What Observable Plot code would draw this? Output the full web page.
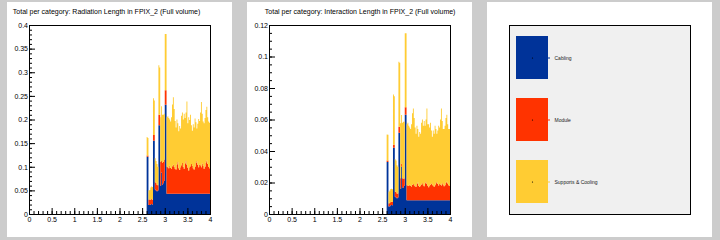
<!DOCTYPE html>
<html><head><meta charset="utf-8">
<script src="https://cdn.jsdelivr.net/npm/d3@7"></script>
<script src="https://cdn.jsdelivr.net/npm/@observablehq/plot@0.6"></script>
<style>
html,body{margin:0;padding:0;background:#cccccc;width:720px;height:240px;overflow:hidden;font-family:"Liberation Sans",Arial,sans-serif}
.pad{position:absolute;top:2px;width:225px;height:235px;background:#fff}
.pad svg{display:block}
</style></head><body>
<div id="p1" class="pad" style="left:7px"></div>
<div id="p2" class="pad" style="left:247px"></div>
<div id="p3" class="pad" style="left:487px"></div>
<script>
// ---- data ----
const categories = ["Cabling", "Module", "Supports & Cooling"];
const legendLabels = ["Cabling", "Module", "Supports & Cooling"];
const colors = ["#003399", "#ff3300", "#ffcc33"];
const binStart = 2.6, binWidth = 0.02; // 70 bins, 2.6 .. 4.0

const titleRad = "Total per category: Radiation Length in FPIX_2 (Full volume)";
const titleInt = "Total per category: Interaction Length in FPIX_2 (Full volume)";

const radCabling = [0.121,0.121, 0.019,0.019,0.020,0.021,0.020, 0.155,0.155, 0.052,0.050,0.048,0.050, 0.188,0.188, 0.060,0.088,0.062,0.065,0.070, 0.231,0.231,
  0.043,0.043,0.043,0.043,0.043,0.043,0.043,0.043,0.043,0.043,0.043,0.043,0.043,0.043,0.043,0.043,
  0.043,0.043,0.043,0.043,0.043,0.043,0.043,0.043,0.043,0.043,0.043,0.043,0.043,0.043,0.043,0.043,
  0.043,0.043,0.043,0.043,0.043,0.043,0.043,0.043,0.043,0.043,0.043,0.043,0.043,0.043,0.043,0.043];
const radModule = [0.003,0.003, 0.011,0.012,0.010,0.011,0.010, 0.012,0.012, 0.015,0.016,0.014,0.011, 0.022,0.022, 0.050,0.024,0.046,0.045,0.045, 0.031,0.031,
  0.057,0.056,0.054,0.059,0.055,0.052,0.058,0.061,0.057,0.053,0.051,0.062,0.067,0.054,0.050,0.056,
  0.060,0.065,0.057,0.053,0.064,0.069,0.061,0.055,0.049,0.056,0.058,0.063,0.059,0.054,0.051,0.057,
  0.065,0.069,0.061,0.056,0.062,0.060,0.056,0.064,0.059,0.053,0.057,0.066,0.070,0.063,0.057,0.054];
const radSupports = [0.039,0.037, 0.020,0.020,0.026,0.026,0.027, 0.078,0.073, 0.051,0.046,0.044,0.039, 0.105,0.100, 0.095,0.116,0.102,0.100,0.097, 0.119,0.119,
  0.105,0.108,0.106,0.098,0.098,0.110,0.131,0.143,0.122,0.101,0.089,0.095,0.082,0.078,0.093,0.082,
  0.105,0.107,0.100,0.116,0.096,0.103,0.134,0.094,0.113,0.100,0.109,0.082,0.074,0.093,0.089,0.102,
  0.086,0.069,0.087,0.102,0.092,0.112,0.138,0.105,0.094,0.096,0.103,0.111,0.114,0.099,0.096,0.096];

const intCabling = [0.033,0.033, 0.0047,0.005,0.0055,0.0057,0.0056, 0.042,0.042, 0.011,0.0105,0.010,0.0105, 0.0516,0.0516, 0.016,0.030,0.017,0.0165,0.018, 0.063,0.063,
  0.0088,0.0088,0.0088,0.0088,0.0088,0.0088,0.0088,0.0088,0.0088,0.0088,0.0088,0.0088,0.0088,0.0088,0.0088,0.0088,
  0.0088,0.0088,0.0088,0.0088,0.0088,0.0088,0.0088,0.0088,0.0088,0.0088,0.0088,0.0088,0.0088,0.0088,0.0088,0.0088,
  0.0088,0.0088,0.0088,0.0088,0.0088,0.0088,0.0088,0.0088,0.0088,0.0088,0.0088,0.0088,0.0088,0.0088,0.0088,0.0088];
const intModule = [0.001,0.001, 0.002,0.0022,0.0021,0.0021,0.002, 0.002,0.002, 0.0032,0.0035,0.003,0.0025, 0.0038,0.0038, 0.0067,0.002,0.0057,0.006,0.0046, 0.0048,0.0048,
  0.0095,0.0093,0.0090,0.0098,0.0092,0.0087,0.0097,0.0102,0.0095,0.0088,0.0085,0.0103,0.0112,0.0090,0.0083,0.0093,
  0.0100,0.0108,0.0095,0.0088,0.0107,0.0115,0.0102,0.0092,0.0082,0.0093,0.0097,0.0105,0.0098,0.0090,0.0085,0.0095,
  0.0108,0.0115,0.0102,0.0093,0.0103,0.0100,0.0093,0.0107,0.0098,0.0088,0.0095,0.0110,0.0117,0.0105,0.0095,0.0090];
const intSupports = [0.0165,0.0163, 0.0075,0.0078,0.0082,0.0082,0.0081, 0.0318,0.0307, 0.0205,0.020,0.018,0.017, 0.0413,0.0406, 0.0349,0.0309,0.0353,0.036,0.036, 0.0469,0.0469,
  0.0387,0.0399,0.0382,0.0364,0.0360,0.0395,0.0455,0.0480,0.0427,0.0374,0.0337,0.0369,0.0340,0.0312,0.0349,0.0329,
  0.0392,0.0404,0.0377,0.0414,0.0365,0.0397,0.0480,0.0390,0.0400,0.0369,0.0395,0.0337,0.0304,0.0352,0.0337,0.0377,
  0.0344,0.0307,0.0340,0.0379,0.0359,0.0412,0.0489,0.0395,0.0354,0.0364,0.0377,0.0412,0.0425,0.0377,0.0357,0.0362];

const xTicks = [0, 0.5, 1, 1.5, 2, 2.5, 3, 3.5, 4];
const yTicksRad = [0, 0.05, 0.1, 0.15, 0.2, 0.25, 0.3, 0.35, 0.4];
const yTicksInt = [0, 0.02, 0.04, 0.06, 0.08, 0.1, 0.12];

// ---- layout ----
const W = 225, H = 235, mL = 22, mR = 22, mT = 23, mB = 23;
const fw = W - mL - mR, fh = H - mT - mB;
const font = "'Liberation Sans', Arial, Helvetica, sans-serif";

function histogram(el, title, titleDx, yMax, yTicks, yMinorStep, series) {
  const n = series[0].length;
  const base = new Array(n).fill(0);
  const rows = [];
  series.forEach((vals, i) => {
    for (let k = 0; k <= n; k++) {
      const b = Math.min(k, n - 1);
      rows.push({x: Math.min(4, binStart + k * binWidth), y1: base[b], y2: base[b] + vals[b], cat: categories[i]});
    }
    for (let k = 0; k < n; k++) base[k] += vals[k];
  });
  const yMinor = d3.range(0, yMax + 1e-9, yMinorStep);
  const xMinor = d3.range(0, 4 + 1e-9, 0.1);
  const p = Plot.plot({
    width: W, height: H, marginLeft: mL, marginRight: mR, marginTop: mT, marginBottom: mB,
    style: {fontFamily: font, background: "white", color: "black", overflow: "visible"},
    x: {domain: [0, 4], label: null},
    y: {domain: [0, yMax], label: null},
    color: {domain: categories, range: colors},
    marks: [
      Plot.area(rows, {x1: "x", y1: "y1", y2: "y2", z: "cat", fill: "cat", curve: "step-after"}),
      Plot.tickY(yMinor, {y: d => d, insetRight: fw - 3, stroke: "black"}),
      Plot.tickY(yTicks, {y: d => d, insetRight: fw - 6, stroke: "black"}),
      Plot.tickX(xMinor, {x: d => d, insetTop: fh - 3, stroke: "black"}),
      Plot.tickX(xTicks, {x: d => d, insetTop: fh - 6, stroke: "black"}),
      Plot.frame({stroke: "black"}),
      Plot.axisY(yTicks, {tickSize: 0, tickPadding: 1.5, fontSize: 7, label: null, tickFormat: d => String(d)}),
      Plot.axisX(xTicks, {tickSize: 0, tickPadding: 3, fontSize: 7, label: null, tickFormat: d => String(d)}),
      Plot.text([title], {frameAnchor: "top-left", dx: titleDx, dy: -14, textAnchor: "start", lineAnchor: "middle", fontSize: 7, fill: "black"})
    ]
  });
  document.getElementById(el).appendChild(p);
}

histogram("p1", titleRad, -16.7, 0.4, yTicksRad, 0.01, [radCabling, radModule, radSupports]);
histogram("p2", titleInt, -4.7, 0.12, yTicksInt, 0.005, [intCabling, intModule, intSupports]);

// legend pad
const leg = Plot.plot({
  width: W, height: H, marginLeft: mL, marginRight: mR, marginTop: mT, marginBottom: mB,
  style: {fontFamily: font, background: "white", color: "black"},
  x: {domain: [0, 1], axis: null},
  y: {domain: categories, range: [33, 202], paddingInner: 0.3, paddingOuter: 0, axis: null},
  color: {domain: categories, range: colors},
  marks: [
    Plot.frame({fill: "#f0f0f0", stroke: "black"}),
    Plot.barX(categories, {y: d => d, x1: 0, x2: 1, insetLeft: 7, insetRight: fw - 39, fill: d => d}),
    Plot.dot(categories, {y: d => d, frameAnchor: "left", dx: 23, r: 0.6, fill: "black", stroke: null}),
    Plot.tickY(categories, {y: d => d, insetLeft: 39, insetRight: fw - 41, stroke: d => d}),
    Plot.text(legendLabels, {y: (d, i) => categories[i], frameAnchor: "left", dx: 45, textAnchor: "start", fontSize: 5, fill: "#222"})
  ]
});
document.getElementById("p3").appendChild(leg);
</script></body></html>
